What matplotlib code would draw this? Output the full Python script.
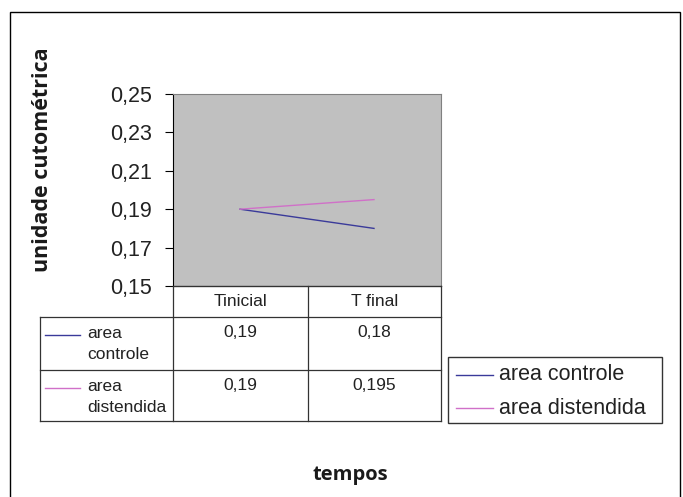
import matplotlib.pyplot as plt
from matplotlib.lines import Line2D
from matplotlib.patches import Rectangle

categorias = ['Tinicial', 'T final']
series = ['area controle', 'area distendida']
rotulos_linhas = ['area\ncontrole', 'area\ndistendida']
controle = [0.19, 0.18]
distendida = [0.19, 0.195]
cores = ['#3a3a9a', '#d070c8']
yticks = [0.15, 0.17, 0.19, 0.21, 0.23, 0.25]

W, H = 683, 497
fig = plt.figure(figsize=(W / 100, H / 100), dpi=100)


def fx(px):
    return px / W


def fy(py):
    return 1 - py / H


# moldura externa
fig.add_artist(Rectangle((fx(10), fy(499)), fx(680) - fx(10), fy(12) - fy(499),
                         transform=fig.transFigure, fill=False, ec='black', lw=1.0))

x0, x1, ytop, ybot = 173, 441, 94, 286
ax = fig.add_axes([fx(x0), fy(ybot), fx(x1) - fx(x0), fy(ytop) - fy(ybot)])
ax.set_facecolor('#c0c0c0')
xs = [0.5, 1.5]
for vals, cor in zip([controle, distendida], cores):
    ax.plot(xs, vals, color=cor, lw=1.0)
ax.set_xlim(0, 2)
ax.set_ylim(0.15, 0.25)
ax.set_yticks(yticks)
ax.set_yticklabels([f'{v:.2f}'.replace('.', ',') for v in yticks],
                   fontsize=15.5, family='Liberation Sans', color='#222222')
ax.tick_params(axis='y', length=6, width=0.8, pad=9, direction='out')
ax.set_xticks([])
for s in ['top', 'right']:
    ax.spines[s].set_color('#808080')
    ax.spines[s].set_linewidth(0.8)
for s in ['left', 'bottom']:
    ax.spines[s].set_color('black')
    ax.spines[s].set_linewidth(0.8)

# tabela de dados
col = [173, 308, 441]
tl = 40
rows = [286, 317, 370, 421]


def hline(xa, xb, y):
    fig.add_artist(Line2D([fx(xa), fx(xb)], [fy(y), fy(y)], transform=fig.transFigure,
                          color='#333333', lw=0.9))


def vline(x, ya, yb):
    fig.add_artist(Line2D([fx(x), fx(x)], [fy(ya), fy(yb)], transform=fig.transFigure,
                          color='#333333', lw=0.9))


hline(col[0], col[2], rows[0])
for y in rows[1:]:
    hline(tl, col[2], y)
vline(tl, rows[1], rows[3])
for x in col:
    vline(x, rows[0], rows[3])

fs = 12.5
for i, c in enumerate(categorias):
    fig.text(fx((col[i] + col[i + 1]) / 2), fy(302), c, ha='center', va='center',
             fontsize=fs, family='Liberation Sans', color='#222222')

for r, (vals, lab, cor) in enumerate(zip([controle, distendida], rotulos_linhas, cores)):
    ytxt = rows[r + 1] + 18
    fig.add_artist(Line2D([fx(45), fx(80)], [fy(ytxt), fy(ytxt)], transform=fig.transFigure,
                          color=cor, lw=1.0))
    fig.text(fx(87), fy(rows[r + 1] + 9), lab, ha='left', va='top', fontsize=fs,
             family='Liberation Sans', color='#222222', linespacing=1.5)
    for j, v in enumerate(vals):
        txt = (f'{v:.3f}'.rstrip('0')).replace('.', ',')
        fig.text(fx((col[j] + col[j + 1]) / 2), fy(rows[r + 1] + 8), txt, ha='center',
                 va='top', fontsize=fs, family='Liberation Sans', color='#222222')

# legenda
fig.add_artist(Rectangle((fx(448), fy(423)), fx(662) - fx(448), fy(357) - fy(423),
                         transform=fig.transFigure, fill=False, ec='#333333', lw=1.0))
for k, (nome, cor) in enumerate(zip(series, cores)):
    yy = 375 + k * 33
    fig.add_artist(Line2D([fx(456), fx(493)], [fy(yy), fy(yy)], transform=fig.transFigure,
                          color=cor, lw=1.0))
    fig.text(fx(499), fy(yy), nome, ha='left', va='center', fontsize=15.5,
             family='Liberation Sans', color='#222222')

fig.text(fx(350), fy(475), 'tempos', ha='center', va='center', fontsize=14.5,
         fontweight='bold', family='Open Sans', color='#1a1a1a')
fig.text(fx(43), fy(160), 'unidade cutométrica', ha='center', va='center', rotation=90,
         fontsize=15.5, fontweight='bold', family='Open Sans', color='#1a1a1a')

fig.savefig('out.png', dpi=100)
